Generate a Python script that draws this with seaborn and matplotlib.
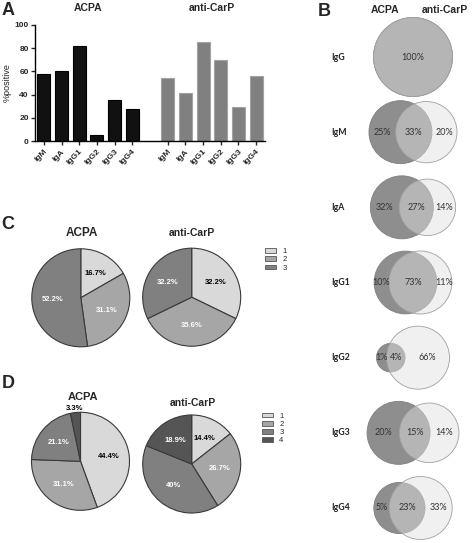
import numpy as np
import pandas as pd
import matplotlib
matplotlib.use("Agg")
import matplotlib.pyplot as plt
import seaborn as sns
from matplotlib.patches import Circle, Patch
from matplotlib.colors import to_rgba
from matplotlib.transforms import blended_transform_factory

# ─────────────────────────────────────────────
# Data
# ─────────────────────────────────────────────

ISOTYPES = ["IgM", "IgA", "IgG1", "IgG2", "IgG3", "IgG4"]
ACPA_POS = [58, 60, 82, 5, 35, 28]
CARP_POS = [54, 41, 85, 70, 29, 56]

VENN_ROWS = ["IgG", "IgM", "IgA", "IgG1", "IgG2", "IgG3", "IgG4"]
VENN_ACPA_ONLY = [0, 25, 32, 10, 1, 20, 5]
VENN_BOTH = [100, 33, 27, 73, 4, 15, 23]
VENN_CARP_ONLY = [0, 20, 14, 11, 66, 14, 33]

PIE_C_LABELS = ["1", "2", "3"]
PIE_C_ACPA = [16.7, 31.1, 52.2]
PIE_C_CARP = [32.2, 35.6, 32.2]

PIE_D_LABELS = ["1", "2", "3", "4"]
PIE_D_ACPA = [44.4, 31.1, 21.1, 3.3]
PIE_D_CARP = [14.4, 26.7, 40, 18.9]

# ─────────────────────────────────────────────
# Style
# ─────────────────────────────────────────────

W, H = 472, 543
PIE_COLORS = ["#d9d9d9", "#a6a6a6", "#808080", "#555555"]
PIE_TEXT = ["black", "white", "white", "white"]
VENN_FONT = ["Lato", "DejaVu Sans"]

sns.set_style("ticks")
plt.rcParams["font.family"] = ["Liberation Sans", "DejaVu Sans"]

fig = plt.figure(figsize=(W / 100, H / 100), dpi=100)


def px_axes(x0, y0, x1, y1):
    """Add axes from pixel box (top-left origin)."""
    return fig.add_axes([x0 / W, 1 - y1 / H, (x1 - x0) / W, (y1 - y0) / H])


def px_text(x, y, s, **kw):
    fig.text(x / W, 1 - y / H, s, ha=kw.pop("ha", "center"), va=kw.pop("va", "center"), **kw)


# ─────────────────────────────────────────────
# Panel A: bars
# ─────────────────────────────────────────────

n = len(ISOTYPES)
df = pd.DataFrame({
    "pos": list(np.arange(n)) + list(np.arange(n) + n + 1),
    "value": ACPA_POS + CARP_POS,
    "group": ["ACPA"] * n + ["anti-CarP"] * n,
})

ax = px_axes(35, 24.7, 265, 141.3)
sns.barplot(
    data=df, x="pos", y="value", hue="group", native_scale=True, dodge=False,
    palette={"ACPA": "#111111", "anti-CarP": "#808080"}, width=0.73,
    errorbar=None, legend=False, linewidth=0.8, ax=ax,
)
for bar in ax.patches:
    dark = bar.get_facecolor()[0] < 0.3
    bar.set_edgecolor("#000000" if dark else "#a3a3a3")

ax.set_xlim(-0.5, 2 * n + 0.5)
ax.set_ylim(0, 100)
ax.set_yticks(range(0, 101, 20))
ax.set_xticks(df["pos"])
ax.set_xticklabels(ISOTYPES * 2, rotation=45, ha="right", rotation_mode="anchor",
                   fontsize=6, fontweight="bold")
ax.tick_params(axis="y", labelsize=6, length=3, width=1, pad=1.5)
ax.tick_params(axis="x", length=3, width=1, pad=2)
for lbl in ax.get_yticklabels():
    lbl.set_fontweight("bold")
ax.set_xlabel("")
ax.set_ylabel("%positive", fontsize=6.5, labelpad=2)
sns.despine(ax=ax)
for sp in ("left", "bottom"):
    ax.spines[sp].set_linewidth(1.0)
    ax.spines[sp].set_color("black")

tr = blended_transform_factory(ax.transData, ax.transAxes)
ax.text((n - 1) / 2, 1.143, "ACPA", transform=tr, ha="center", va="center",
        fontsize=7.5, fontweight="bold")
ax.text(n + 1 + (n - 1) / 2, 1.143, "anti-CarP", transform=tr, ha="center", va="center",
        fontsize=7.5, fontweight="bold")

# ─────────────────────────────────────────────
# Panel B: Venn diagrams
# ─────────────────────────────────────────────


def lens_area(r1, r2, d):
    if d >= r1 + r2:
        return 0.0
    if d <= abs(r1 - r2):
        return np.pi * min(r1, r2) ** 2
    a1 = r1 ** 2 * np.arccos((d ** 2 + r1 ** 2 - r2 ** 2) / (2 * d * r1))
    a2 = r2 ** 2 * np.arccos((d ** 2 + r2 ** 2 - r1 ** 2) / (2 * d * r2))
    a3 = 0.5 * np.sqrt((-d + r1 + r2) * (d + r1 - r2) * (d - r1 + r2) * (d + r1 + r2))
    return a1 + a2 - a3


def centre_distance(r1, r2, frac):
    """Distance so that the lens covers `frac` of the smaller circle."""
    target = frac * np.pi * min(r1, r2) ** 2
    lo, hi = abs(r1 - r2), r1 + r2
    for _ in range(60):
        mid = (lo + hi) / 2
        if lens_area(r1, r2, mid) > target:
            lo = mid
        else:
            hi = mid
    return (lo + hi) / 2


axb = px_axes(320, 0, 472, 543)
axb.set_xlim(320, 472)
axb.set_ylim(543, 0)
axb.axis("off")

px_text(385, 10, "ACPA", fontsize=7.5, fontweight="bold")
px_text(445, 10, "anti-CarP", fontsize=7.5, fontweight="bold")

row_y = np.linspace(57, 508, len(VENN_ROWS))
x_mid = 413
for name, a_only, both, c_only, cy in zip(VENN_ROWS, VENN_ACPA_ONLY, VENN_BOTH,
                                          VENN_CARP_ONLY, row_y):
    set_a, set_c = a_only + both, c_only + both
    big = max(set_a, set_c)
    r_big = 39.5 if a_only == c_only == 0 else 31.5
    r1 = r_big * (set_a / big) ** 0.3
    r2 = r_big * (set_c / big) ** 0.3
    # the original diagrams draw the overlap a bit smaller than exact
    d = centre_distance(r1, r2, 0.8 * both / min(set_a, set_c)) if both < min(set_a, set_c) else 0
    c1 = x_mid - (d + r2 - r1) / 2
    c2 = c1 + d

    axb.add_patch(Circle((c1, cy), r1, facecolor="#8e8e8e", edgecolor="#808080", lw=0.6))
    axb.add_patch(Circle((c2, cy), r2, facecolor=to_rgba("#e0e0e0", 0.48),
                         edgecolor="#a0a0a0", lw=0.6))

    axb.text(331, cy, name, ha="left", va="center", fontsize=6.3, fontweight="bold",
             family=VENN_FONT, color="#222222")
    tk = dict(ha="center", va="center", fontsize=6.5, family=VENN_FONT, color="#333333")
    if a_only or c_only:
        axb.text((c1 - r1 + c2 - r2) / 2, cy, f"{a_only}%", **tk)
        axb.text((c2 - r2 + c1 + r1) / 2, cy, f"{both}%", **tk)
        axb.text((c1 + r1 + c2 + r2) / 2, cy, f"{c_only}%", **tk)
    else:
        axb.text(c1, cy, f"{both}%", **tk)

# ─────────────────────────────────────────────
# Panels C and D: pies
# ─────────────────────────────────────────────


def draw_pie(cx, cy, values, r=50):
    axp = px_axes(cx - r, cy - r, cx + r, cy + r)
    k = len(values)
    wedges, _, autotexts = axp.pie(
        values, colors=PIE_COLORS[:k], startangle=90, counterclock=False,
        autopct="%1.1f%%", pctdistance=0.58,
        wedgeprops=dict(edgecolor="#3a3a3a", linewidth=0.8),
        textprops=dict(fontsize=5.5, fontweight="bold"),
    )
    for i, (v, t) in enumerate(zip(values, autotexts)):
        t.set_text(f"{v:g}%")
        t.set_color(PIE_TEXT[i])
        if v < 5:
            w = wedges[i]
            ang = np.deg2rad((w.theta1 + w.theta2) / 2)
            t.set_position((1.08 * np.cos(ang), 1.08 * np.sin(ang)))
            t.set_color("black")
    axp.set_aspect("equal")
    axp.set_xlim(-1.02, 1.02)
    axp.set_ylim(-1.02, 1.02)
    return axp


def pie_legend(axp, labels, x, y):
    handles = [Patch(facecolor=PIE_COLORS[i], edgecolor="#555555", lw=0.6)
               for i in range(len(labels))]
    axp.legend(handles, labels, loc="upper left", bbox_to_anchor=(x / W, 1 - y / H),
               bbox_transform=fig.transFigure, frameon=False, fontsize=5.5,
               handlelength=1.45, handleheight=0.6, handletextpad=0.8,
               labelspacing=0.15, borderpad=0, borderaxespad=0)


ax_c1 = draw_pie(80.8, 297.8, PIE_C_ACPA)
ax_c2 = draw_pie(191.7, 297.2, PIE_C_CARP)
pie_legend(ax_c2, PIE_C_LABELS, 265, 248)
px_text(81.7, 233, "ACPA", fontsize=8.5, fontweight="bold")
px_text(191.7, 233, "anti-CarP", fontsize=7.5, fontweight="bold")

ax_d1 = draw_pie(80.5, 461.3, PIE_D_ACPA)
ax_d2 = draw_pie(191.7, 464, PIE_D_CARP)
pie_legend(ax_d2, PIE_D_LABELS, 262, 412.5)
px_text(83.3, 396.7, "ACPA", fontsize=8, fontweight="bold")
px_text(192.7, 403, "anti-CarP", fontsize=7.5, fontweight="bold")

# panel letters
for letter, (x, y) in {"A": (1.5, 10.5), "B": (318, 11), "C": (1.5, 225),
                       "D": (1.5, 383.5)}.items():
    px_text(x, y, letter, ha="left", fontsize=13, fontweight="bold")

fig.savefig("out.png", dpi=100)
